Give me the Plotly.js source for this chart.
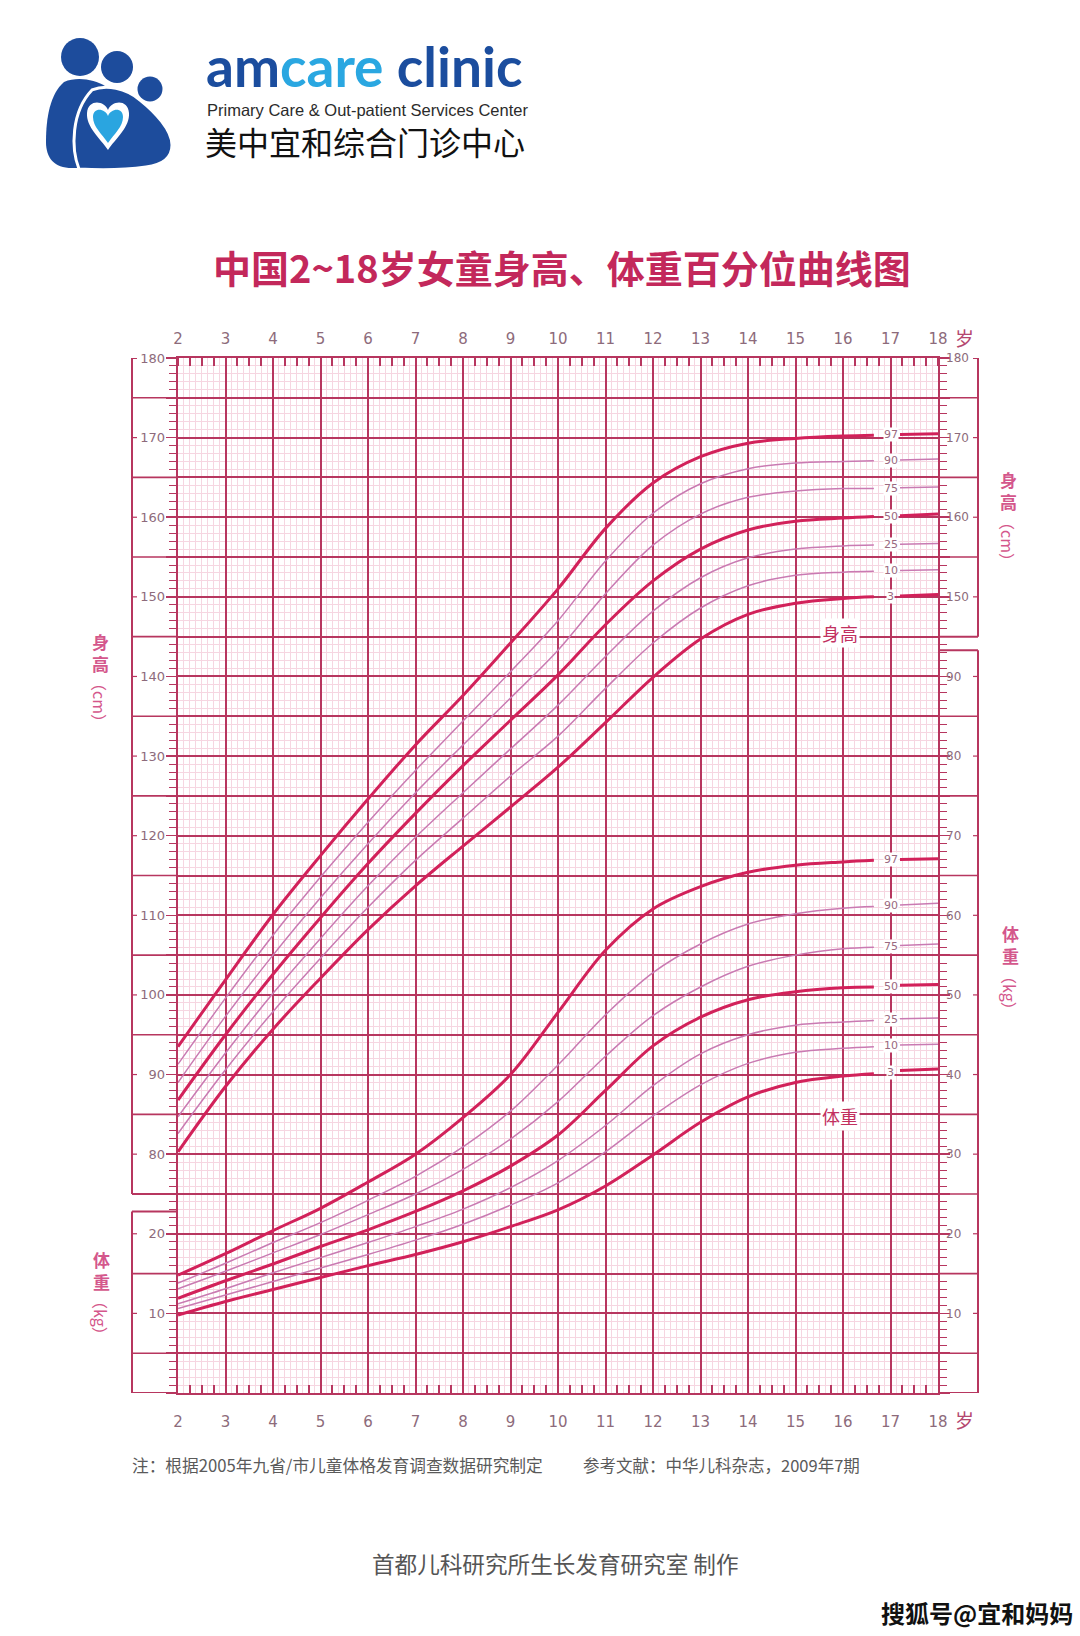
<!DOCTYPE html>
<html><head><meta charset="utf-8">
<script src="https://cdn.plot.ly/plotly-3.0.1.min.js"></script>
<style>html,body{margin:0;padding:0;background:#fff;}#chart{width:1080px;height:1636px;}</style>
</head><body><div id="chart"></div>
<script>
// ---------------- DATA ----------------
const ages = [2,3,4,5,6,7,8,9,10,11,12,13,14,15,16,16.65,17,17.2,18];
const percentiles = ['97','90','75','50','25','10','3'];

const heightP97 = [93.5,101.9,110.1,117.5,124.6,131.4,137.6,144.2,151.0,158.6,164.3,167.6,169.3,169.9,170.2,170.3,null,170.4,170.5];
const heightP90 = [91.3,99.6,107.5,114.8,121.7,128.2,134.4,140.6,147.0,154.5,160.5,164.2,166.1,166.8,167.0,167.1,null,167.2,167.3];
const heightP75 = [89.0,97.3,105.0,112.2,119.0,125.4,131.4,137.3,143.3,150.4,156.5,160.4,162.5,163.3,163.6,163.6,null,163.7,163.8];
const heightP50 = [86.8,95.0,102.6,109.7,116.5,122.8,128.8,134.5,140.2,146.5,152.0,156.0,158.4,159.5,159.9,160.1,null,160.2,160.4];
const heightP25 = [84.7,92.7,100.2,107.1,113.7,119.8,125.4,130.9,136.4,142.5,148.2,152.4,154.9,156.0,156.4,156.5,null,156.6,156.7];
const heightP10 = [82.6,90.6,97.9,104.6,111.0,116.9,122.2,127.5,132.5,138.5,144.2,148.6,151.4,152.7,153.1,153.2,null,153.3,153.4];
const heightP3  = [80.3,88.5,95.7,102.1,108.2,113.7,118.7,123.6,128.6,134.2,139.9,144.7,147.8,149.2,149.8,150.0,null,150.1,150.3];

const weightP97 = [14.8,17.5,20.4,23.2,26.5,30.0,34.6,40.0,47.8,55.6,60.8,63.6,65.4,66.3,66.7,66.9,null,67.0,67.1];
const weightP90 = [13.8,16.3,18.9,21.4,24.2,27.2,30.9,35.4,41.2,47.5,52.8,56.4,58.9,60.2,60.9,61.1,null,61.3,61.5];
const weightP75 = [13.1,15.3,17.6,19.9,22.4,25.0,28.1,31.9,36.6,42.3,47.4,51.0,53.6,55.0,55.8,56.0,null,56.2,56.4];
const weightP50 = [11.9,14.1,16.2,18.4,20.5,22.8,25.4,28.5,32.4,38.0,43.6,47.2,49.4,50.4,50.9,51.0,null,51.2,51.3];
const weightP25 = [11.2,13.1,15.1,17.0,18.9,20.9,23.1,25.8,29.2,33.6,38.6,42.6,45.0,46.2,46.6,46.8,null,47.0,47.1];
const weightP10 = [10.6,12.3,14.0,15.7,17.4,19.2,21.2,23.6,26.4,30.3,34.8,38.7,41.4,42.8,43.3,43.5,null,43.7,43.8];
const weightP3  = [9.8,11.5,13.0,14.5,16.0,17.4,19.0,20.9,23.0,26.0,29.9,34.0,37.2,39.0,39.8,40.1,null,40.5,40.7];

const yearTicks = [2,3,4,5,6,7,8,9,10,11,12,13,14,15,16,17,18];
const heightLeftTicks = [80,90,100,110,120,130,140,150,160,170,180];
const weightLeftTicks = [10,20];
const heightRightTicks = [150,160,170,180];
const weightRightTicks = [10,20,30,40,50,60,70,80,90];

// ---------------- GEOMETRY / STYLE ----------------
const W = 1080, H = 1636;
const PL = 178, PR = 938, PT = 358, PB = 1393, FL = 132, FR = 978;
const px = x => x / W, py = y => 1 - y / H;
const C = '#b7365f', L = '#f6d6e1';
const THICK = '#d2215a', THIN = '#c97ab2';
const TICKCOL = '#8d6b7b';
const FONT = 'DejaVu Sans, Liberation Sans, sans-serif';
const CJK = 'Noto Sans CJK SC, sans-serif';

function P(path){
  const t = path.trim().split(/[\s,]+/); const out=[]; let nums=[];
  for(const tok of t){
    if(/^[A-Za-z]$/.test(tok)){ out.push(tok); }
    else { nums.push(parseFloat(tok)); if(nums.length===2){ out.push(px(nums[0]).toFixed(5)+','+py(nums[1]).toFixed(5)); nums=[]; } }
  }
  return out.join(' ');
}

// ---------------- TRACES ----------------
const heightSeries = [heightP97,heightP90,heightP75,heightP50,heightP25,heightP10,heightP3];
const weightSeries = [weightP97,weightP90,weightP75,weightP50,weightP25,weightP10,weightP3];
const isThick = p => (p==='97'||p==='50'||p==='3');
const traces = [];
// dummy traces so that the label-only axes get drawn
[['x2','y'],['x3','y'],['x','y2'],['x','y4'],['x','y5']].forEach(([xa,ya])=>{
  traces.push({x:[null], y:[null], xaxis:xa, yaxis:ya, mode:'lines', hoverinfo:'skip', showlegend:false});
});
const order = [1,2,4,5,0,3,6];
order.forEach(i=>{
  const p = percentiles[i], th = isThick(p);
  const line = {shape:'spline', smoothing:1.0, width: th?3:1.5, color: th?THICK:THIN};
  traces.push({x:ages, y:heightSeries[i], xaxis:'x', yaxis:'y', mode:'lines', line, connectgaps:false, hoverinfo:'skip', showlegend:false});
  traces.push({x:ages, y:weightSeries[i], xaxis:'x', yaxis:'y3', mode:'lines', line, connectgaps:false, hoverinfo:'skip', showlegend:false});
});

// ---------------- ANNOTATIONS ----------------
const ann = [];
const iA = ages.indexOf(16.65), iB = ages.indexOf(17.2), iGap = ages.indexOf(17);
percentiles.forEach((p,i)=>{
  [[heightSeries[i],'y'],[weightSeries[i],'y3']].forEach(([s,ref])=>{
    ann.push({x:ages[iGap], y:(s[iA]+s[iB])/2, xref:'x', yref:ref, text:p, showarrow:false,
      font:{family:FONT,size:11,color:'#9a6a80'}, bgcolor:'#ffffff', borderpad:0, xanchor:'center', yanchor:'middle'});
  });
});
function A(text,x,y,opt){ return Object.assign({text, x:px(x), y:py(y), xref:'paper', yref:'paper', showarrow:false, xanchor:'center', yanchor:'middle'}, opt||{}); }
ann.push(A('中国2~18岁女童身高、体重百分位曲线图', 562, 266, {font:{family:CJK,size:38,color:'#c3285b',weight:700}}));
ann.push(A('岁', 964, 337, {font:{family:CJK,size:19,color:'#b5476f'}}));
ann.push(A('岁', 964, 1419, {font:{family:CJK,size:19,color:'#b5476f'}}));
const stc = '#d4578c';
function sideTitle(x, yTop, yBot, a, b){
  ann.push(A(a[0]+'<br>'+a[1], x, yTop, {font:{family:CJK,size:17,color:stc,weight:700}}));
  ann.push(A('（'+b+'）', x, yBot, {font:{family:CJK,size:16,color:stc}, textangle:90}));
}
sideTitle(100, 652, 702, '身高', 'cm');
sideTitle(1008, 490, 541, '身高', 'cm');
sideTitle(1010, 944, 993, '体重', 'kg');
sideTitle(101, 1270, 1318, '体重', 'kg');
ann.push({text:'身高', x:15.94, y:145.4, xref:'x', yref:'y', showarrow:false, font:{family:CJK,size:18,color:'#c2305f'}, bgcolor:'#ffffff'});
ann.push({text:'体重', x:15.94, y:34.8, xref:'x', yref:'y3', showarrow:false, font:{family:CJK,size:18,color:'#c2305f'}, bgcolor:'#ffffff'});
ann.push(A('注：根据2005年九省/市儿童体格发育调查数据研究制定', 130, 1465, {xanchor:'left', font:{family:CJK,size:16.7,color:'#5a5a5a'}}));
ann.push(A('参考文献：中华儿科杂志，2009年7期', 581, 1465, {xanchor:'left', font:{family:CJK,size:16.5,color:'#5a5a5a'}}));
ann.push(A('首都儿科研究所生长发育研究室 制作', 555, 1563, {font:{family:CJK,size:22.6,color:'#555555'}}));
ann.push(A('搜狐号@宜和妈妈', 1075, 1612, {xanchor:'right', font:{family:CJK,size:24,color:'#111111',weight:700}}));
ann.push(A('<span style="color:#1b4d9e">am</span><span style="color:#2aa7e1">care</span><span style="color:#1b4d9e"> clinic</span>', 204, 66, {xanchor:'left', font:{family:'Lato, sans-serif',size:55,weight:700}}));
ann.push(A('Primary Care &amp; Out-patient Services Center', 205, 110, {xanchor:'left', font:{family:'Liberation Sans, Arial, sans-serif',size:16.5,color:'#2b2b2b'}}));
ann.push(A('美中宜和综合门诊中心', 203, 141, {xanchor:'left', font:{family:CJK,size:32,color:'#111111'}}));

// ---------------- SHAPES ----------------
const shapes = [];
function hl(x0,x1,y,ref,w){ shapes.push({type:'line', xref:'paper', yref:ref, x0:px(x0), x1:px(x1), y0:y, y1:y, line:{color:C,width:w||2}, layer:'above'}); }
function vl(x,y0,y1,ref){ shapes.push({type:'line', xref:'paper', yref:ref, x0:px(x), x1:px(x), y0, y1, line:{color:C,width:2}, layer:'above'}); }
vl(FL,180,75,'y'); vl(FL,22.8,0,'y3');
hl(FL,PL,75,'y'); hl(FL,PL,22.8,'y3'); hl(FL,PL,0,'y3'); hl(FL,FL+5,180,'y');
[175,165,155,145,135,125,115,105,95,85].forEach(v=>hl(FL,PL,v,'y',1.6));
[15,5].forEach(v=>hl(FL,PL,v,'y3',1.6));
heightLeftTicks.filter(v=>v<180).forEach(v=>hl(FL,FL+5,v,'y',1.2));
weightLeftTicks.forEach(v=>hl(FL,FL+5,v,'y3',1.2));
vl(FR,180,145,'y'); vl(FR,93.3,0,'y3');
hl(PR,FR,145,'y'); hl(PR,FR,93.3,'y3'); hl(PR,FR,0,'y3'); hl(FR-5,FR,180,'y');
[175,165,155].forEach(v=>hl(PR,FR,v,'y',1.6));
[85,75,65,55,45,35,25,15,5].forEach(v=>hl(PR,FR,v,'y3',1.6));
heightRightTicks.filter(v=>v<180).forEach(v=>hl(FR-5,FR,v,'y',1.2));
weightRightTicks.forEach(v=>hl(FR-5,FR,v,'y3',1.2));
// logo
const DB = '#1d4c9c', LB = '#2aa5e0';
function circ(cx,cy,r,col){ shapes.push({type:'circle', xref:'paper', yref:'paper', x0:px(cx-r), x1:px(cx+r), y0:py(cy+r), y1:py(cy-r), fillcolor:col, line:{width:0}}); }
circ(80,57,19,DB); circ(117,67,16,DB); circ(150,89,12.5,DB);
shapes.push({type:'path', xref:'paper', yref:'paper', path:P('M 64 82 C 78 76 95 80 105 86 L 95 168 L 72 168 C 54 168 46 158 46 142 C 46 118 50 94 64 82 Z'), fillcolor:DB, line:{width:0}});
shapes.push({type:'path', xref:'paper', yref:'paper', path:P('M 92 90 C 106 84 126 88 140 100 C 155 112 172 130 172 145 C 172 158 162 165 146 167 C 124 170 98 170 79 169 C 71 149 71 112 92 90 Z'), fillcolor:DB, line:{color:'#ffffff',width:3}});
shapes.push({type:'path', xref:'paper', yref:'paper', path:P('M 108 110 C 104 100 88 99 87 113 C 86 127 100 138 108 150 C 116 138 130 127 129 113 C 128 99 112 100 108 110 Z'), fillcolor:'#ffffff', line:{width:0}});
shapes.push({type:'path', xref:'paper', yref:'paper', path:P('M 108 116 C 105 108 93 107 93 117 C 93 127 102 134 108 143 C 114 134 123 127 123 117 C 123 107 111 108 108 116 Z'), fillcolor:LB, line:{width:0}});

// ---------------- LAYOUT ----------------
const xdom = [px(PL), px(PR)], ydom = [py(PB), py(PT)];
const tf = {family:FONT, size:15, color:TICKCOL};
const layout = {
  width:W, height:H, margin:{l:0,r:0,t:0,b:0}, paper_bgcolor:'#ffffff', plot_bgcolor:'#ffffff', showlegend:false,
  xaxis:{domain:xdom, range:[2,18], anchor:'y', tickmode:'array', tickvals:yearTicks, showgrid:true, gridcolor:C, gridwidth:2,
    minor:{tickmode:'linear', tick0:2, dtick:0.125, showgrid:true, gridcolor:L, gridwidth:1},
    ticks:'', showticklabels:true, tickfont:tf, ticklabelstandoff:14, showline:true, mirror:true, linecolor:C, linewidth:2, zeroline:false, fixedrange:true},
  xaxis2:{overlaying:'x', anchor:'y', side:'bottom', range:[2,18], tickmode:'linear', tick0:2, dtick:0.25, ticks:'inside', ticklen:8, tickwidth:2, tickcolor:C, showticklabels:false, showgrid:false, zeroline:false, showline:false},
  xaxis3:{overlaying:'x', anchor:'y', side:'top', range:[2,18], tickmode:'array', tickvals:yearTicks, ticks:'', showticklabels:true, tickfont:tf, ticklabelstandoff:10, showgrid:false, zeroline:false, showline:false,
    minor:{tickmode:'linear', tick0:2, dtick:0.25, ticks:'inside', ticklen:8, tickwidth:2, tickcolor:C, showgrid:false}},
  yaxis:{domain:ydom, range:[50,180], anchor:'x', tickmode:'linear', tick0:50, dtick:5, showgrid:true, gridcolor:C, gridwidth:2,
    ticks:'outside', ticklen:10, tickwidth:1.5, tickcolor:C, showticklabels:false,
    minor:{tickmode:'linear', tick0:50, dtick:1, showgrid:true, gridcolor:L, gridwidth:1, ticks:'outside', ticklen:7, tickwidth:1, tickcolor:C},
    showline:true, mirror:'ticks', linecolor:C, linewidth:2, zeroline:false, fixedrange:true},
  yaxis2:{overlaying:'y', anchor:'x', side:'left', range:[50,180], tickmode:'array', tickvals:heightLeftTicks, ticks:'', showgrid:false, zeroline:false, showline:false,
    tickfont:{family:FONT,size:13,color:TICKCOL}, ticklabelstandoff:12},
  yaxis3:{overlaying:'y', anchor:'x', side:'left', range:[0,130], tickmode:'array', tickvals:weightLeftTicks, ticks:'', showgrid:false, zeroline:false, showline:false,
    tickfont:{family:FONT,size:13,color:TICKCOL}, ticklabelstandoff:12},
  yaxis4:{overlaying:'y', anchor:'x', side:'right', range:[50,180], tickmode:'array', tickvals:heightRightTicks, ticks:'', showgrid:false, zeroline:false, showline:false,
    tickfont:{family:FONT,size:12,color:TICKCOL}, ticklabelstandoff:7},
  yaxis5:{overlaying:'y', anchor:'x', side:'right', range:[0,130], tickmode:'array', tickvals:weightRightTicks, ticks:'', showgrid:false, zeroline:false, showline:false,
    tickfont:{family:FONT,size:12,color:TICKCOL}, ticklabelstandoff:7},
  annotations:ann, shapes:shapes
};
Plotly.newPlot('chart', traces, layout, {staticPlot:true, displayModeBar:false});
</script></body></html>
